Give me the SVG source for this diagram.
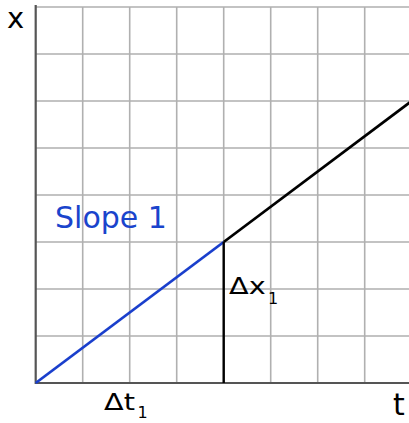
<svg xmlns="http://www.w3.org/2000/svg" width="409" height="423" viewBox="0 0 409 423">
<style>
.grid{stroke:#b0b0b0;stroke-width:1.6;fill:none}
.axis{stroke:#555;stroke-width:2.2;fill:none}
.lbl{font-family:"DejaVu Sans",Verdana,sans-serif;fill:#000}
.blue{fill:#1a44cc}
</style>
<rect width="409" height="423" fill="#fff"/>
<g id="grid">
<path class="grid" d="M82.7,7V383M129.7,7V383M176.7,7V383M223.7,7V383M270.7,7V383M317.7,7V383M364.7,7V383"/>
<path class="grid" d="M35.7,7H409M35.7,54H409M35.7,101H409M35.7,148H409M35.7,195H409M35.7,242H409M35.7,289H409M35.7,336H409"/>
</g>
<g id="axes">
<path class="axis" d="M35.7,5V384M34.6,383H409"/>
</g>
<g id="connectors">
<line x1="35.7" y1="383" x2="223.7" y2="242" stroke="#1a3fcc" stroke-width="2.8"/>
<line x1="223.7" y1="242" x2="411" y2="101.5" stroke="#000" stroke-width="2.8"/>
<line x1="223.7" y1="242" x2="223.7" y2="383" stroke="#000" stroke-width="2.4"/>
</g>
<g id="labels">
<text class="lbl" x="7" y="28" font-size="29">x</text>
<text class="lbl" x="393" y="415" font-size="30">t</text>
<text class="lbl blue" x="55" y="228" font-size="30">Slope 1</text>
<g id="dt">
<text class="lbl" font-size="23" transform="translate(104,410) scale(1.25,1)">Δt</text>
<text class="lbl" x="137.5" y="417.7" font-size="16">1</text>
</g>
<g id="dx">
<text class="lbl" font-size="23" transform="translate(229,294.3) scale(1.25,1)">Δx</text>
<text class="lbl" x="268" y="304.3" font-size="16">1</text>
</g>
</g>
</svg>
